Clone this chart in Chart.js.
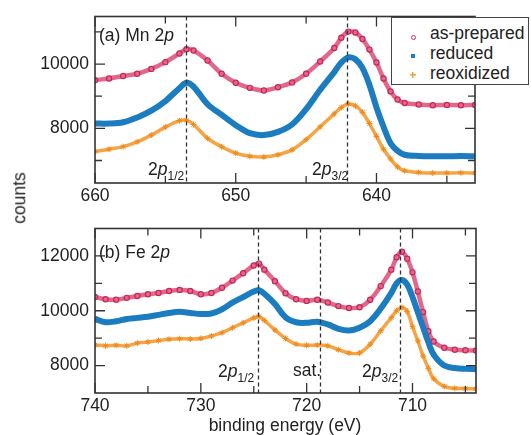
<!DOCTYPE html>
<html>
<head>
<meta charset="utf-8">
<script src="https://cdn.jsdelivr.net/npm/chart.js@4.4.1/dist/chart.umd.min.js"></script>
<style>
  body { margin: 0; background: #fff; }
  #wrap { position: relative; width: 531px; height: 435px; overflow: hidden;
          font-family: "Liberation Sans", Arial, sans-serif; color: #222; }
  canvas { position: absolute; left: 0; }
  .lbl { position: absolute; font-size: 17.5px; line-height: 1; white-space: nowrap; }
  .lbl sub { font-size: 12px; vertical-align: -5px; line-height: 0; }
  #legendBox { position: absolute; left: 391px; top: 17px; width: 136px; height: 66px;
               border: 1.5px solid #444; background: #fff; }
  .mk { position: absolute; width: 4px; height: 4px; }
</style>
</head>
<body>
<div id="wrap">
  <canvas id="chartA" width="531" height="212" style="top:0"></canvas>
  <canvas id="chartB" width="531" height="223" style="top:212px"></canvas>

  <div class="lbl" style="left:99px; top:27px">(a) Mn 2<i>p</i></div>
  <div class="lbl" style="left:148px; top:161px">2<i>p</i><sub>1/2</sub></div>
  <div class="lbl" style="left:312px; top:161px">2<i>p</i><sub>3/2</sub></div>

  <div class="lbl" style="left:99px; top:244px">(b) Fe 2<i>p</i></div>
  <div class="lbl" style="left:218px; top:363px">2<i>p</i><sub>1/2</sub></div>
  <div class="lbl" style="left:293px; top:362px">sat.</div>
  <div class="lbl" style="left:362px; top:363px">2<i>p</i><sub>3/2</sub></div>

  <div class="lbl" style="left:20px; top:198px; transform: translate(-50%,-50%) rotate(-90deg)">counts</div>
  <div class="lbl" style="left:285px; top:426px; transform: translate(-50%,-50%)">binding energy (eV)</div>

  <div id="legendBox"></div>
  <div class="mk" style="left:411px; top:35px; border:1px solid #d42b5e; border-radius:50%; width:3px; height:3px"></div>
  <div class="mk" style="left:411px; top:54px; background:#1c7cc0"></div>
  <div class="mk" style="left:410px; top:72px; width:6px; height:6px;
       background: linear-gradient(#f4a03a,#f4a03a) center/6px 1.5px no-repeat, linear-gradient(#f4a03a,#f4a03a) center/1.5px 6px no-repeat"></div>
  <div class="lbl" style="left:430px; top:25px">as-prepared</div>
  <div class="lbl" style="left:430px; top:45px">reduced</div>
  <div class="lbl" style="left:430px; top:65px">reoxidized</div>
</div>

<script>
// (a) Mn 2p
const energiesA = [660, 659, 658, 657, 656, 655, 654, 653.5, 653, 652, 651, 650, 649, 648, 647, 646, 645, 644, 643,
  642.5, 642, 641.5, 641, 640.5, 640, 639.5, 639, 638.5, 638, 637, 636, 635, 634, 633];
const asPreparedA = [9500, 9550, 9630, 9700, 9850, 10060, 10330, 10460, 10420, 10110, 9700, 9420, 9260, 9180, 9280, 9430, 9700, 10080, 10500,
  10820, 11010, 10980, 10780, 10450, 10050, 9550, 9150, 8900, 8790, 8740, 8720, 8730, 8720, 8730];
const reducedA = [8150, 8150, 8190, 8340, 8550, 8850, 9250, 9420, 9300, 8750, 8420, 8100, 7850, 7790, 7890, 8120, 8600, 9200, 9750,
  10050, 10210, 10150, 9880, 9350, 8650, 8050, 7540, 7300, 7180, 7140, 7130, 7130, 7140, 7130];
const reoxidizedA = [7280, 7350, 7430, 7580, 7790, 8040, 8240, 8250, 8120, 7690, 7430, 7230, 7130, 7110, 7180, 7330, 7650, 8050, 8450,
  8650, 8760, 8700, 8500, 8150, 7750, 7350, 7050, 6800, 6680, 6630, 6610, 6610, 6620, 6610];
const peakLinesA = [653.5, 642.1];
const xTicksA = [635, 640, 645, 650, 655, 660];
const yTicksA = [7000, 8000, 9000, 10000, 11000];

// (b) Fe 2p
const energiesB = [740, 739, 738, 737, 736, 735, 734, 733, 732, 731, 730, 729, 728, 727, 726, 725, 724.5,
  724, 723, 722, 721, 720, 719, 718, 717, 716, 715, 714, 713, 712,
  711.5, 711, 710.5, 710, 709.5, 709, 708.5, 708, 707, 706, 705, 704];
const asPreparedB = [10500, 10420, 10400, 10470, 10540, 10600, 10650, 10720, 10760, 10720, 10600, 10650, 10840, 11100, 11370, 11650, 11720,
  11500, 11080, 10640, 10420, 10360, 10400, 10300, 10170, 10100, 10130, 10400, 10900, 11500,
  11950, 12150, 11900, 11400, 10700, 9950, 9250, 8880, 8650, 8580, 8560, 8550];
const reducedB = [9700, 9580, 9620, 9700, 9740, 9780, 9850, 9920, 9960, 9920, 9880, 9900, 10050, 10300, 10500, 10700, 10750,
  10620, 10250, 9760, 9580, 9560, 9600, 9500, 9340, 9280, 9380, 9620, 10080, 10650,
  11000, 11120, 10950, 10500, 9950, 9400, 8850, 8400, 8000, 7910, 7880, 7870];
const reoxidizedB = [8750, 8720, 8740, 8720, 8820, 8860, 8910, 8960, 8980, 8970, 8990, 9080, 9200, 9380, 9560, 9740, 9790,
  9650, 9300, 8990, 8780, 8740, 8750, 8720, 8580, 8460, 8460, 8780, 9270, 9750,
  10000, 10120, 9980, 9420, 8900, 8350, 7900, 7520, 7240, 7170, 7160, 7150];
const peakLinesB = [724.6, 718.7, 711.2];
const xTicksB = [705, 710, 715, 720, 725, 730, 735, 740];
const yTicksB = [8000, 9000, 10000, 11000, 12000];

Chart.defaults.font.family = '"Liberation Sans", Arial, sans-serif';
Chart.defaults.font.size = 17.5;
Chart.defaults.color = "#222";

const toPoints = (xs, ys) => xs.map((x, i) => ({ x: x, y: ys[i] }));

// frame, inward ticks and dashed marker lines
const framePlugin = {
  id: "frame",
  afterDatasetsDraw(chart, args, opts) {
    const { ctx, chartArea: a, scales } = chart;
    const x = scales.x, y = scales.y;
    ctx.save();
    ctx.strokeStyle = "#333";
    ctx.lineWidth = 1.3;
    ctx.setLineDash([4, 3]);
    opts.lines.forEach((e) => {
      const px = Math.round(x.getPixelForValue(e)) + 0.5;
      ctx.beginPath();
      ctx.moveTo(px, a.top);
      ctx.lineTo(px, a.bottom);
      ctx.stroke();
    });
    ctx.setLineDash([]);
    ctx.beginPath();
    x.ticks.forEach((t) => {
      const px = x.getPixelForValue(t.value);
      const len = t.value % 10 === 0 ? 10 : 7;
      ctx.moveTo(px, a.bottom); ctx.lineTo(px, a.bottom - len);
      ctx.moveTo(px, a.top); ctx.lineTo(px, a.top + len);
    });
    y.ticks.forEach((t) => {
      const py = y.getPixelForValue(t.value);
      const len = t.value % 2000 === 0 ? 10 : 7;
      ctx.moveTo(a.left, py); ctx.lineTo(a.left + len, py);
      ctx.moveTo(a.right, py); ctx.lineTo(a.right - len, py);
    });
    ctx.stroke();
    ctx.lineWidth = 1.6;
    ctx.strokeRect(a.left, a.top, a.right - a.left, a.bottom - a.top);
    ctx.restore();
  },
};

function makePanel(id, energies, asPrep, red, reox, lines, xTicks, yTicks, xMin, xMax, yMin, yMax, pad, xHeight) {
  return new Chart(document.getElementById(id), {
    type: "scatter",
    data: {
      datasets: [
        {
          label: "reoxidized",
          data: toPoints(energies, reox),
          showLine: true,
          tension: 0.35,
          borderColor: "rgba(244,155,50,0.9)",
          borderWidth: 3.5,
          pointStyle: "star",
          pointRadius: 3,
          pointBorderColor: "#f08a1c",
          pointBorderWidth: 1,
        },
        {
          label: "reduced",
          data: toPoints(energies, red),
          showLine: true,
          tension: 0.35,
          borderColor: "#1c7cc0",
          borderWidth: 6,
          pointStyle: "rect",
          pointRadius: 3,
          pointBackgroundColor: "#1c7cc0",
          pointBorderWidth: 0,
        },
        {
          label: "as-prepared",
          data: toPoints(energies, asPrep),
          showLine: true,
          tension: 0.35,
          borderColor: "rgba(212,40,90,0.7)",
          borderWidth: 4.5,
          pointStyle: "circle",
          pointRadius: 2.6,
          pointBorderColor: "#c92556",
          pointBackgroundColor: "rgba(255,255,255,0)",
          pointBorderWidth: 1.2,
        },
      ],
    },
    options: {
      responsive: false,
      animation: false,
      layout: { padding: pad },
      plugins: { legend: { display: false }, tooltip: { enabled: false }, frame: { lines: lines } },
      scales: {
        x: {
          type: "linear",
          reverse: true,
          min: xMin,
          max: xMax,
          afterBuildTicks: (s) => { s.ticks = xTicks.map((v) => ({ value: v })); },
          afterFit: (s) => { s.height = xHeight; },
          grid: { display: false, drawTicks: false },
          border: { display: false },
          ticks: {
            autoSkip: false,
            maxRotation: 0,
            padding: 3,
            callback: (v) => (v % 10 === 0 ? v : ""),
          },
        },
        y: {
          min: yMin,
          max: yMax,
          afterBuildTicks: (s) => { s.ticks = yTicks.map((v) => ({ value: v })); },
          afterFit: (s) => { s.width = 95; },
          grid: { display: false, drawTicks: false },
          border: { display: false },
          ticks: {
            autoSkip: false,
            padding: 6,
            callback: (v) => (v % 2000 === 0 ? v : ""),
          },
        },
      },
    },
    plugins: [framePlugin],
  });
}

makePanel("chartA", energiesA, asPreparedA, reducedA, reoxidizedA, peakLinesA, xTicksA, yTicksA,
  633, 660, 6300, 11480, { top: 13, right: 56, left: 0, bottom: 0 }, 29);
makePanel("chartB", energiesB, asPreparedB, reducedB, reoxidizedB, peakLinesB, xTicksB, yTicksB,
  704, 740, 7000, 13000, { top: 10, right: 55, left: 0, bottom: 0 }, 42);
</script>
</body>
</html>
